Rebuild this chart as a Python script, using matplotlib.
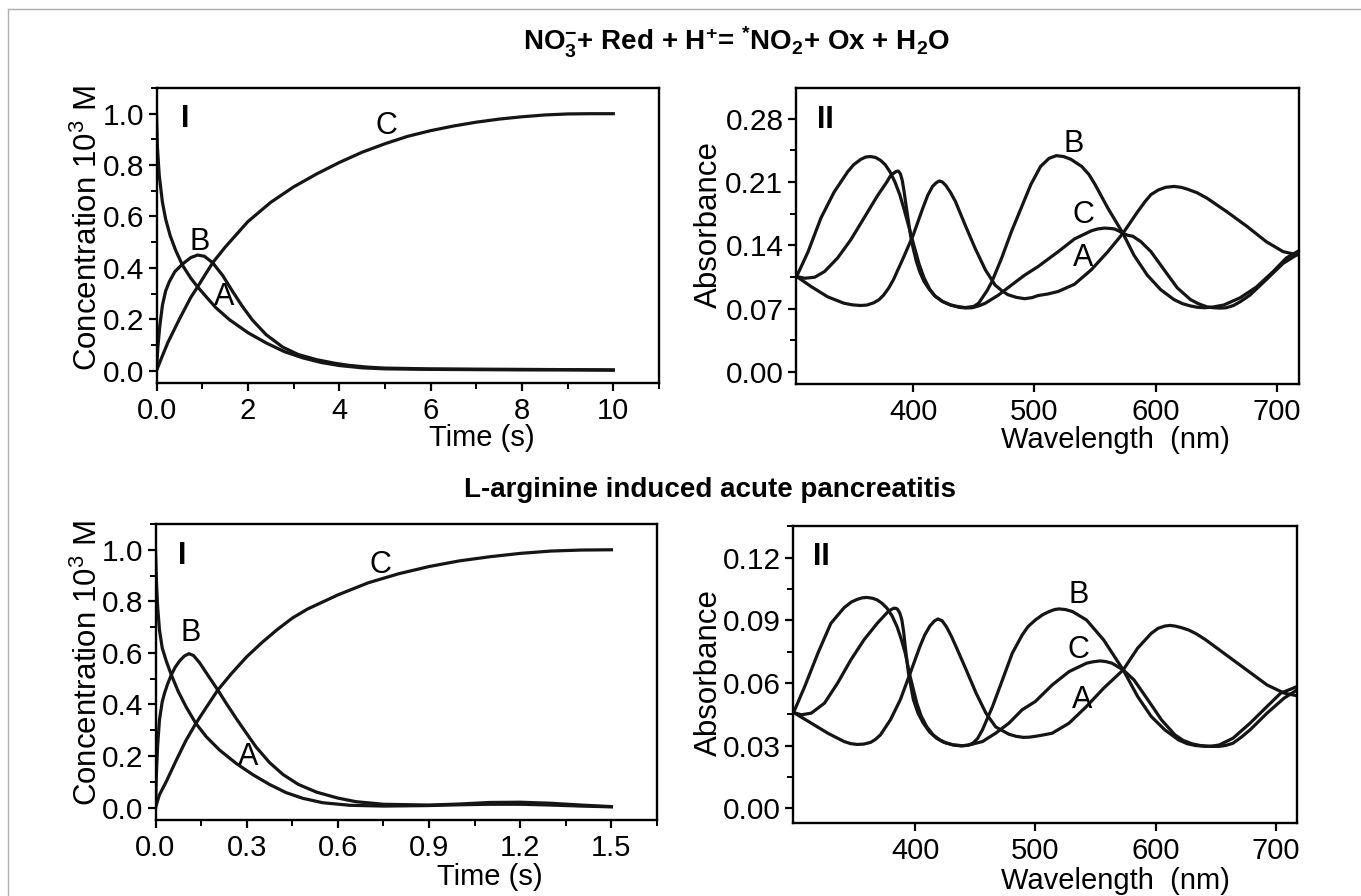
import matplotlib
matplotlib.use('Agg')
import matplotlib.pyplot as plt
from matplotlib.ticker import FixedLocator, FixedFormatter, MultipleLocator
from matplotlib.lines import Line2D

plt.rcParams['font.family'] = ['Liberation Sans', 'DejaVu Sans']
plt.rcParams['mathtext.fontset'] = 'custom'
plt.rcParams['mathtext.rm'] = 'Liberation Sans'
plt.rcParams['mathtext.it'] = 'Liberation Sans:italic'
plt.rcParams['mathtext.bf'] = 'Liberation Sans:bold'

# ---------------- data: kinetics, top (NO3- reduction) ----------------
t1_A = [0, 0.02, 0.06, 0.13, 0.2, 0.3, 0.42, 0.57, 0.75, 0.9, 1.1, 1.3, 1.6, 2.0, 2.4, 2.8,
        3.2, 3.6, 4.0, 4.5, 5.0, 6, 7, 8, 9, 10]
c1_A = [1.0, 0.87, 0.76, 0.655, 0.59, 0.525, 0.468, 0.41, 0.36, 0.326, 0.285, 0.245, 0.198,
        0.148, 0.108, 0.074, 0.05, 0.032, 0.02, 0.011, 0.007, 0.005, 0.004, 0.003, 0.003, 0.002]
t1_B = [0, 0.03, 0.07, 0.13, 0.2, 0.28, 0.4, 0.57, 0.75, 0.9, 1.05, 1.23, 1.45, 1.66, 1.88,
        2.1, 2.4, 2.76, 3.1, 3.5, 3.9, 4.2, 4.6, 5.0, 6, 7, 8, 9, 10]
c1_B = [0, 0.09, 0.17, 0.255, 0.31, 0.346, 0.385, 0.415, 0.44, 0.45, 0.445, 0.42, 0.37, 0.31,
        0.25, 0.197, 0.14, 0.092, 0.063, 0.043, 0.029, 0.021, 0.014, 0.01, 0.007, 0.006, 0.005,
        0.004, 0.003]
t1_C = [0, 0.1, 0.25, 0.5, 0.75, 0.9, 1.0, 1.23, 1.5, 2.0, 2.5, 3.0, 3.5, 4.0, 4.5, 5.0, 5.5,
        6.0, 6.5, 7.0, 7.5, 8.0, 8.5, 9.0, 9.5, 10]
c1_C = [0, 0.045, 0.11, 0.2, 0.285, 0.326, 0.355, 0.42, 0.48, 0.58, 0.655, 0.715, 0.765, 0.81,
        0.85, 0.883, 0.912, 0.934, 0.952, 0.967, 0.979, 0.988, 0.995, 0.999, 1.0, 1.0]

# ---------------- data: kinetics, bottom (L-arginine) ----------------
t2_A = [0, 0.003, 0.007, 0.013, 0.022, 0.035, 0.052, 0.075, 0.101, 0.132, 0.167, 0.211, 0.266,
        0.32, 0.375, 0.43, 0.485, 0.55, 0.64, 0.75, 0.9, 1.0, 1.1, 1.2, 1.3, 1.4, 1.5]
c2_A = [1.0, 0.88, 0.78, 0.69, 0.62, 0.57, 0.515, 0.45, 0.39, 0.328, 0.275, 0.223, 0.171,
        0.128, 0.09, 0.058, 0.036, 0.019, 0.009, 0.006, 0.008, 0.011, 0.013, 0.013, 0.01,
        0.006, 0.003]
t2_B = [0, 0.003, 0.007, 0.013, 0.022, 0.03, 0.04, 0.052, 0.065, 0.08, 0.095, 0.11, 0.125,
        0.145, 0.172, 0.205, 0.233, 0.266, 0.3, 0.331, 0.375, 0.42, 0.47, 0.53, 0.6, 0.66,
        0.75, 0.9, 1.0, 1.1, 1.2, 1.3, 1.4, 1.5]
c2_B = [0, 0.13, 0.24, 0.34, 0.41, 0.445, 0.48, 0.515, 0.545, 0.57, 0.588, 0.597, 0.59, 0.562,
        0.514, 0.456, 0.404, 0.345, 0.287, 0.235, 0.175, 0.128, 0.09, 0.06, 0.037, 0.023,
        0.013, 0.01, 0.014, 0.02, 0.021, 0.017, 0.01, 0.004]
t2_C = [0, 0.013, 0.035, 0.068, 0.1, 0.132, 0.165, 0.205, 0.25, 0.3, 0.35, 0.4, 0.45, 0.5,
        0.6, 0.7, 0.8, 0.9, 1.0, 1.1, 1.2, 1.3, 1.4, 1.5]
c2_C = [0, 0.05, 0.1, 0.183, 0.26, 0.325, 0.385, 0.456, 0.52, 0.585, 0.64, 0.69, 0.735, 0.77,
        0.825, 0.872, 0.907, 0.935, 0.957, 0.973, 0.986, 0.995, 0.999, 1.0]

# ---------------- data: spectra, top ----------------
w1_A = [304, 316, 329.7, 343, 350, 356.8, 362, 367.6, 372, 375.7, 380, 383.8, 391.9, 400, 408,
        412, 416, 419, 421.6, 424, 427, 431, 435, 443, 451, 459.5, 467.6, 473, 478, 485, 491.9,
        498, 503, 511, 519.6, 533, 546.9, 560.5, 572.8, 585, 591, 596, 602, 608, 615, 621, 626,
        634, 642.2, 658.6, 675, 691, 704.9, 718]
a1_A = [0.1055, 0.0944, 0.083, 0.076, 0.0742, 0.0735, 0.074, 0.0765, 0.08, 0.085, 0.093, 0.102,
        0.126, 0.151, 0.181, 0.195, 0.205, 0.209, 0.211, 0.21, 0.206, 0.198, 0.188, 0.162, 0.137,
        0.113, 0.096, 0.09, 0.0855, 0.0825, 0.081, 0.0822, 0.0845, 0.0862, 0.089, 0.097, 0.113,
        0.133, 0.153, 0.177, 0.188, 0.196, 0.201, 0.204, 0.205, 0.204, 0.202, 0.198, 0.192,
        0.177, 0.161, 0.144, 0.133, 0.129]
w1_B = [304, 313.5, 324, 335, 346, 351, 357, 361, 365, 369, 373, 377, 381, 385, 389, 392.5, 396,
        400, 405, 409, 413.5, 418, 424, 430, 435, 443, 450, 454, 457, 461, 465, 473, 481, 489,
        497, 505, 512, 518, 524, 530, 539, 545, 550, 560.5, 573, 582, 593, 604, 615, 622, 628.6,
        634, 640, 647, 655.9, 669.5, 683, 696.7, 707.6, 718]
a1_B = [0.1055, 0.133, 0.170, 0.199, 0.221, 0.229, 0.235, 0.2375, 0.238, 0.237, 0.234, 0.229,
        0.221, 0.21, 0.196, 0.18, 0.163, 0.143, 0.119, 0.104, 0.092, 0.084, 0.078, 0.0745,
        0.0728, 0.0712, 0.0725, 0.076, 0.082, 0.09, 0.1, 0.126, 0.155, 0.181, 0.207, 0.227,
        0.236, 0.239, 0.238, 0.235, 0.227, 0.218, 0.207, 0.181, 0.153, 0.129, 0.107, 0.091,
        0.080, 0.0755, 0.073, 0.0716, 0.071, 0.0718, 0.074, 0.082, 0.094, 0.111, 0.126, 0.134]
w1_C = [304, 310.8, 318.9, 327, 337.8, 348.6, 359.5, 370.3, 378.4, 381, 383.8, 386, 387.8,
        389.5, 391, 392.5, 394, 396, 398, 400, 402.5, 405.4, 409, 413.5, 418, 424.3, 431, 437.8,
        443, 448.6, 454, 459.5, 470.3, 481, 491.9, 503, 519.6, 533, 546.9, 552, 557.8, 563,
        566, 570, 572.8, 577, 581, 587.7, 596, 606.8, 617.7, 628.6, 635, 642.2, 647, 653, 658,
        664, 670, 677.6, 691, 704.9, 718]
a1_C = [0.1055, 0.1036, 0.1047, 0.111, 0.126, 0.146, 0.17, 0.194, 0.21, 0.216, 0.2195, 0.2215,
        0.222, 0.219, 0.212, 0.2, 0.186, 0.168, 0.15, 0.137, 0.123, 0.111, 0.1, 0.091, 0.084,
        0.078, 0.074, 0.0715, 0.0708, 0.071, 0.073, 0.076, 0.085, 0.096, 0.107, 0.1165, 0.133,
        0.147, 0.156, 0.158, 0.159, 0.1585, 0.158, 0.1555, 0.153, 0.151, 0.15, 0.144, 0.133,
        0.113, 0.093, 0.080, 0.0755, 0.072, 0.0711, 0.0706, 0.071, 0.0735, 0.078, 0.085,
        0.102, 0.120, 0.131]

# ---------------- data: spectra, bottom ----------------
w2_A = [299, 313.7, 327.4, 341, 346.5, 352, 357.5, 363, 367, 371.2, 379.5, 387.7, 395.9, 404,
        408, 412.3, 416, 419, 422.5, 426, 430, 434, 442.5, 450.7, 458.9, 467, 478, 484, 490,
        495, 500, 507, 514, 528, 542.5, 556.7, 573, 585, 596.3, 602, 607.6, 612, 616, 621,
        627.5, 634, 641.6, 658.6, 675.6, 692.6, 706.8, 717.5]
a2_A = [0.0459, 0.0408, 0.036, 0.032, 0.031, 0.0306, 0.0308, 0.0316, 0.033, 0.0352, 0.0424,
        0.052, 0.0647, 0.0775, 0.083, 0.0873, 0.0897, 0.0907, 0.0898, 0.087, 0.0826, 0.0775,
        0.0663, 0.0552, 0.0456, 0.039, 0.0355, 0.0345, 0.034, 0.0341, 0.0345, 0.0352, 0.036,
        0.0408, 0.0488, 0.0575, 0.0663, 0.0767, 0.0838, 0.0862, 0.0873, 0.0876, 0.0873,
        0.0866, 0.0854, 0.0835, 0.0807, 0.0735, 0.0663, 0.0591, 0.0552, 0.0539]
w2_B = [299, 308.2, 319.2, 330, 341, 347, 352, 356, 360, 364.5, 368.5, 372.5, 376.7, 381, 385,
        388.5, 391.8, 395.9, 401.4, 405, 409.6, 415, 420.5, 426, 431.5, 439.7, 444, 448, 452,
        456, 464.4, 472.6, 480.8, 489, 494, 500, 506, 511.3, 516, 519.8, 525, 531, 542.5, 556.7,
        573, 585, 596.3, 607.6, 619, 626, 633, 641.6, 647, 653, 664.3, 678.5, 692.6, 704, 717.5]
a2_B = [0.0459, 0.0583, 0.0743, 0.0886, 0.0961, 0.0988, 0.1001, 0.1008, 0.101, 0.1006, 0.0998,
        0.0982, 0.0958, 0.092, 0.087, 0.081, 0.0743, 0.0631, 0.0504, 0.0443, 0.0392, 0.0352,
        0.0328, 0.0313, 0.0304, 0.030, 0.0302, 0.0312, 0.0335, 0.0376, 0.0488, 0.0615, 0.0743,
        0.083, 0.0871, 0.0902, 0.0927, 0.0942, 0.0952, 0.0955, 0.0952, 0.0942, 0.0902, 0.0807,
        0.0663, 0.0536, 0.044, 0.0376, 0.0328, 0.031, 0.0301, 0.0297, 0.0298, 0.0304, 0.0336,
        0.0408, 0.0488, 0.0552, 0.0583]
w2_C = [299, 305.5, 313.7, 324.7, 335.6, 346.6, 357.5, 368.5, 376.7, 379.5, 382.2, 384, 385.5,
        387.3, 389, 390.5, 391.8, 394.5, 398.6, 402.5, 406.8, 412, 417.8, 424, 431.5, 438,
        445.2, 456, 467, 478, 489, 500, 514, 528, 542.5, 548, 553.8, 558.5, 563.7, 573, 582,
        593.5, 604.8, 616, 623, 630.3, 637, 644.5, 653, 658, 664.3, 671, 678.5, 692.6, 706.8,
        717.5]
a2_C = [0.0459, 0.0448, 0.0456, 0.0504, 0.06, 0.0711, 0.0807, 0.0886, 0.0937, 0.095, 0.0958,
        0.0958, 0.0953, 0.0935, 0.0902, 0.0845, 0.0775, 0.0647, 0.052, 0.0455, 0.0408, 0.0366,
        0.0336, 0.0316, 0.0304, 0.0299, 0.0304, 0.032, 0.036, 0.0408, 0.0472, 0.0512, 0.0591,
        0.0655, 0.0695, 0.0702, 0.0706, 0.0703, 0.0695, 0.0663, 0.0615, 0.052, 0.0424, 0.0352,
        0.0325, 0.0309, 0.0301, 0.0297, 0.0297, 0.0301, 0.0312, 0.034, 0.0376, 0.0456, 0.0528,
        0.0567]

# tick labels
kin1_xticks = [0, 2, 4, 6, 8, 10]
kin1_xlabels = ['0.0', '2', '4', '6', '8', '10']
kin2_xticks = [0, 0.3, 0.6, 0.9, 1.2, 1.5]
kin2_xlabels = ['0.0', '0.3', '0.6', '0.9', '1.2', '1.5']
kin_yticks = [0, 0.2, 0.4, 0.6, 0.8, 1.0]
kin_ylabels = ['0.0', '0.2', '0.4', '0.6', '0.8', '1.0']
spec_xticks = [400, 500, 600, 700]
spec_xlabels = ['400', '500', '600', '700']
spec1_yticks = [0, 0.07, 0.14, 0.21, 0.28]
spec1_ylabels = ['0.00', '0.07', '0.14', '0.21', '0.28']
spec2_yticks = [0, 0.03, 0.06, 0.09, 0.12]
spec2_ylabels = ['0.00', '0.03', '0.06', '0.09', '0.12']

# ---------------- figure ----------------
W, H = 1361, 896
fig = plt.figure(figsize=(W / 100, H / 100), dpi=100)
fig.patch.set_facecolor('white')

def fx(px):
    return px / W

def fy(py):
    return 1 - py / H

def make_axes(left, top, right, bottom):
    return fig.add_axes([fx(left), fy(bottom), (right - left) / W, (bottom - top) / H])

LC = '#151515'
LW = 2.3
YTICKFS = 21.5
XTICKFS = 21
LETFS = 22
LABFS = 21
VLABFS = 22.5

def style(ax, xticks, xlabels, yticks, ylabels, xminor, yminor):
    for s in ax.spines.values():
        s.set_linewidth(1.7)
        s.set_color('black')
    ax.xaxis.set_major_locator(FixedLocator(xticks))
    ax.xaxis.set_major_formatter(FixedFormatter(xlabels))
    ax.yaxis.set_major_locator(FixedLocator(yticks))
    ax.yaxis.set_major_formatter(FixedFormatter(ylabels))
    if xminor:
        ax.xaxis.set_minor_locator(MultipleLocator(xminor))
    if yminor:
        ax.yaxis.set_minor_locator(MultipleLocator(yminor))
    ax.tick_params(which='both', direction='out', top=False, right=False, colors='black')
    ax.tick_params(which='major', length=6, width=1.6)
    ax.tick_params(which='minor', length=4, width=1.4)
    ax.tick_params(axis='x', pad=4, labelsize=XTICKFS)
    ax.tick_params(axis='y', pad=3, labelsize=YTICKFS)

def letter(ax, x, y, s, bold=False):
    ax.text(x, y, s, fontsize=LETFS, fontweight='bold' if bold else 'normal',
            ha='center', va='center')

# top-left
ax1 = make_axes(156.5, 88, 659, 383)
ax1.plot(t1_A, c1_A, color=LC, lw=LW)
ax1.plot(t1_B, c1_B, color=LC, lw=LW)
ax1.plot(t1_C, c1_C, color=LC, lw=LW)
ax1.set_xlim(0, 11)
ax1.set_ylim(-0.048, 1.1)
style(ax1, kin1_xticks, kin1_xlabels, kin_yticks, kin_ylabels, 1, 0.1)
letter(ax1, 0.62, 0.98, 'I', True)
letter(ax1, 5.03, 0.953, 'C')
letter(ax1, 0.95, 0.50, 'B')
letter(ax1, 1.49, 0.288, 'A')

# top-right
ax2 = make_axes(796, 88, 1299, 384)
ax2.plot(w1_A, a1_A, color=LC, lw=LW)
ax2.plot(w1_B, a1_B, color=LC, lw=LW)
ax2.plot(w1_C, a1_C, color=LC, lw=LW)
ax2.set_xlim(303.5, 718)
ax2.set_ylim(-0.0132, 0.3137)
style(ax2, spec_xticks, spec_xlabels, spec1_yticks, spec1_ylabels, None, 0.035)
letter(ax2, 327.3, 0.278, 'II', True)
letter(ax2, 532, 0.252, 'B')
letter(ax2, 540.2, 0.1734, 'C')
letter(ax2, 540.2, 0.1257, 'A')

# bottom-left
ax3 = make_axes(155.5, 524, 657, 820)
ax3.plot(t2_A, c2_A, color=LC, lw=LW)
ax3.plot(t2_B, c2_B, color=LC, lw=LW)
ax3.plot(t2_C, c2_C, color=LC, lw=LW)
ax3.set_xlim(0, 1.65)
ax3.set_ylim(-0.048, 1.1)
style(ax3, kin2_xticks, kin2_xlabels, kin_yticks, kin_ylabels, 0.15, 0.1)
letter(ax3, 0.088, 0.974, 'I', True)
letter(ax3, 0.114, 0.676, 'B')
letter(ax3, 0.739, 0.942, 'C')
letter(ax3, 0.306, 0.197, 'A')

# bottom-right
ax4 = make_axes(793, 526, 1297, 823)
ax4.plot(w2_A, a2_A, color=LC, lw=LW)
ax4.plot(w2_B, a2_B, color=LC, lw=LW)
ax4.plot(w2_C, a2_C, color=LC, lw=LW)
ax4.set_xlim(298.5, 717.5)
ax4.set_ylim(-0.007, 0.1352)
style(ax4, spec_xticks, spec_xlabels, spec2_yticks, spec2_ylabels, None, 0.015)
letter(ax4, 322.4, 0.1205, 'II', True)
letter(ax4, 535.9, 0.1022, 'B')
letter(ax4, 535.6, 0.0759, 'C')
letter(ax4, 538.7, 0.052, 'A')

# axis labels
conc = r'Concentration 10$^{3}$ M'
fig.text(fx(88), fy(228), conc, rotation=90, ha='center', va='center', fontsize=VLABFS)
fig.text(fx(88), fy(663), conc, rotation=90, ha='center', va='center', fontsize=VLABFS)
fig.text(fx(709), fy(225), 'Absorbance', rotation=90, ha='center', va='center', fontsize=VLABFS)
fig.text(fx(709), fy(672), 'Absorbance', rotation=90, ha='center', va='center', fontsize=VLABFS)
fig.text(fx(482), fy(438), 'Time (s)', ha='center', va='center', fontsize=LABFS)
fig.text(fx(490), fy(877), 'Time (s)', ha='center', va='center', fontsize=LABFS)
fig.text(fx(1115), fy(440), 'Wavelength  (nm)', ha='center', va='center', fontsize=LABFS)
fig.text(fx(1115), fy(881), 'Wavelength  (nm)', ha='center', va='center', fontsize=LABFS)

# titles
title1 = (r'NO$_\mathbf{3}^\mathbf{-}$+ Red + H$^\mathbf{+}$= $^\mathbf{*}$NO$_\mathbf{2}$'
          r'+ Ox + H$_\mathbf{2}$O')
fig.text(fx(737), fy(42), title1, ha='center', va='center', fontsize=20, fontweight='bold')
fig.text(fx(710), fy(490), 'L-arginine induced acute pancreatitis', ha='center', va='center',
         fontsize=20, fontweight='bold')

# outer frame (top and left edges visible)
fig.add_artist(Line2D([fx(8), fx(1361)], [fy(9), fy(9)], color='#b0b0b0', lw=1.0))
fig.add_artist(Line2D([fx(8), fx(8)], [fy(9), fy(896)], color='#b0b0b0', lw=1.0))

fig.savefig('out.png', dpi=100, facecolor='white')
